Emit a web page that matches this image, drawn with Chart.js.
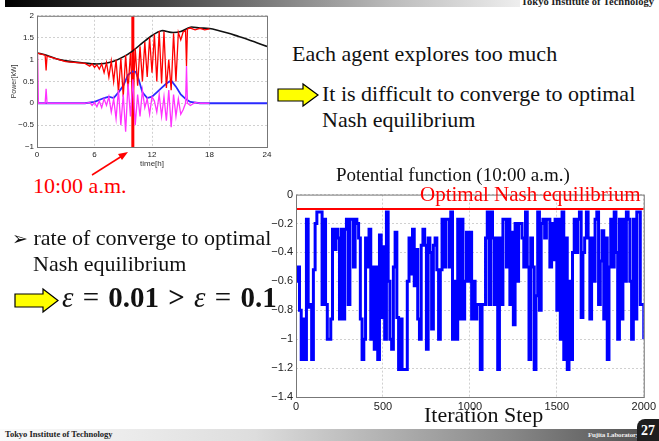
<!DOCTYPE html>
<html>
<head>
<meta charset="utf-8">
<script src="https://cdn.jsdelivr.net/npm/chart.js@4.4.1/dist/chart.umd.min.js"></script>
<style>
  body { margin: 0; width: 659px; height: 441px; overflow: hidden; background: #fff; position: relative; font-family: "Liberation Serif", "Times New Roman", serif; }
  .abs { position: absolute; white-space: nowrap; }
  .txt { font-size: 22px; color: #111; }
</style>
</head>
<body>
<!-- header / footer bars -->
<div class="abs" style="left:5px;top:0;width:515px;height:7px;background:linear-gradient(90deg,#000,#444 30%,#bbb 75%,#eee);"></div>
<div class="abs" style="left:521px;top:-4px;font-size:10.5px;font-weight:bold;color:#222;">Tokyo Institute of Technology</div>
<div class="abs" style="left:0;top:429px;width:637px;height:12px;background:linear-gradient(90deg,#fafafa,#ddd 40%,#888 80%,#555);"></div>
<div class="abs" style="left:5px;top:429px;font-size:8.5px;font-weight:bold;color:#222;">Tokyo Institute of Technology</div>
<div class="abs" style="left:588px;top:431px;font-size:7px;font-weight:bold;color:#eee;letter-spacing:-0.2px;">Fujita Laboratory</div>
<div class="abs" style="left:637px;top:419px;width:22px;height:22px;background:#1e1e1e;border-top-left-radius:8px;color:#fff;font-size:14px;font-weight:bold;text-align:center;line-height:24px;">27</div>

<!-- small power chart -->
<div class="abs" style="left:0;top:8px;width:275px;height:164px;"><canvas id="powerChart" width="275" height="164"></canvas></div>

<!-- main potential chart -->
<div class="abs" style="left:255px;top:185px;width:404px;height:242px;"><canvas id="potentialChart" width="404" height="242"></canvas></div>

<!-- texts -->
<div class="abs txt" style="left:292px;top:41px;">Each agent explores too much</div>
<div class="abs txt" style="left:322px;top:81px;line-height:26px;">It is difficult to converge to optimal<br>Nash equilibrium</div>
<div class="abs" style="left:33px;top:173px;font-size:22px;color:#f00;">10:00 a.m.</div>
<div class="abs" style="left:336px;top:164px;font-size:19px;color:#111;">Potential function (10:00 a.m.)</div>
<div class="abs" style="left:420px;top:182px;font-size:21px;color:#f00;">Optimal Nash equilibrium</div>
<div class="abs txt" style="left:12px;top:225px;line-height:26px;"><span style="font-family:'DejaVu Sans';font-size:19px;">&#10146;</span> rate of converge to optimal<br><span style="padding-left:21px;">Nash equilibrium</span></div>
<div class="abs" style="left:62px;top:281px;font-size:29px;color:#111;word-spacing:2px;"><i>&#949;</i> = <b>0.01</b> <b>&gt;</b> <i>&#949;</i> = <b>0.1</b></div>
<div class="abs" style="left:424px;top:402px;font-size:22px;color:#111;">Iteration Step</div>

<svg class="abs" style="left:0;top:0;" width="659" height="441">
  <polygon points="278,89 303,89 303,84 318,95 303,106 303,101 278,101" fill="#ffff00" stroke="#000" stroke-width="1.2"/>
  <polygon points="15,294 43,294 43,289 58,300.5 43,312 43,307 15,307" fill="#ffff00" stroke="#000" stroke-width="1.2"/>
  <line x1="92" y1="175" x2="122" y2="156" stroke="#f00" stroke-width="1.5"/>
  <polygon points="128,152 118,154 122,160" fill="#f00"/>
</svg>

<script>
// ---- potential function (10:00 a.m.), sampled every 10 iteration steps ----
const stepEvery = 10;
const potential = [
  -0.6, -0.5, -0.8, -1.14, -0.86, -1.14, -0.17, -0.78, -0.76, -1.14,
  -0.52, -0.2, -0.12, -0.12, -0.12, -0.76, -0.17, -0.76, -1.0, -1.0,
  -0.86, -0.24, -0.38, -0.24, -0.3, -0.86, -0.24, -0.86, -0.24, -0.17,
  -0.76, -0.17, -0.17, -0.5, -0.17, -0.2, -0.3, -0.86, -1.14, -1.0,
  -0.3, -0.5, -0.24, -1.0, -0.5, -1.07, -0.5, -1.14, -0.28, -0.85,
  -0.36, -1.0, -0.12, -0.6, -1.0, -1.07, -0.5, -0.26, -0.85, -1.21,
  -0.86, -1.21, -1.21, -1.21, -0.6, -0.3, -0.55, -0.24, -0.63, -0.38,
  -0.86, -1.0, -0.35, -0.24, -0.35, -1.07, -0.3, -0.4, -0.93, -0.35,
  -0.3, -0.52, -1.0, -0.52, -0.17, -0.5, -0.17, -0.17, -0.5, -0.12,
  -1.0, -0.6, -1.0, -0.17, -0.86, -0.17, -0.86, -0.6, -0.26, -0.6,
  -0.26, -0.86, -0.6, -0.86, -0.76, -0.76, -1.21, -0.76, -0.76, -0.3,
  -0.12, -0.76, -0.12, -0.3, -0.76, -0.3, -1.21, -0.3, -0.76, -0.17,
  -0.17, -0.5, -0.17, -0.76, -0.26, -0.9, -0.2, -0.6, -0.2, -0.2,
  -0.3, -0.5, -0.12, -0.5, -1.14, -0.3, -0.5, -1.21, -0.7, -0.12,
  -0.8, -0.2, -0.17, -0.3, -0.17, -0.17, -0.5, -0.2, -0.45, -0.17,
  -0.8, -0.17, -1.0, -0.12, -1.14, -0.3, -1.21, -0.6, -1.14, -0.4,
  -0.17, -0.4, -0.17, -0.12, -0.85, -0.4, -0.3, -0.12, -0.3, -0.86,
  -0.3, -0.6, -0.17, -0.12, -0.76, -0.46, -0.25, -0.86, -0.3, -1.14,
  -0.5, -0.17, -0.5, -0.12, -0.4, -1.0, -0.17, -0.86, -0.17, -0.6,
  -0.12, -0.17, -0.6, -1.0, -0.17, -0.86, -0.12, -0.12, -0.76, -0.76,
  -1.0
];
const optimalNash = -0.1;
const iterTicks = [0, 500, 1000, 1500, 2000];
const potTicks = [0, -0.2, -0.4, -0.6, -0.8, -1, -1.2, -1.4];

// ---- power profile over the day ----
const tBlack = [0,1,2,3,4,5,6,7,8,9,10,11,12,13,14,15,16,17,18,19,20,21,22,23,24];
const demand = [1.15,1.1,1.02,0.97,0.94,0.92,0.9,0.91,0.96,1.06,1.2,1.38,1.55,1.66,1.62,1.64,1.74,1.72,1.71,1.66,1.6,1.53,1.46,1.38,1.3];

const tSpike = [0,0.05,0.15,0.85,0.95,1.05,1.5,3,5,5.5,5.75,6,6.25,6.5,6.75,7,7.25,7.5,7.75,8,8.25,8.5,8.75,9,9.25,9.5,9.75,10,10.25,10.5,10.75,11,11.25,11.5,11.75,12,12.25,12.5,12.75,13,13.25,13.5,13.75,14,14.25,14.5,14.75,15,15.25,15.5,15.6,15.7,16,16.5,17,17.5,18];
const redPower = [0,1.15,1.14,1.1,0.75,1.08,1.05,0.95,0.91,0.85,0.9,0.82,0.88,0.78,0.9,0.7,0.93,0.6,0.97,0.5,1.0,0.25,1.03,0.15,1.1,0.3,1.15,0.0,1.25,0.4,1.3,0.5,1.4,0.6,1.5,0.7,1.58,0.5,1.65,0.45,1.64,0.35,1.0,0.3,1.6,0.5,1.62,1.45,1.63,1.66,0.85,1.7,1.72,1.68,1.71,1.68,1.7];
const magentaPower = [0,1.1,0,0,0.33,0,0,0,0,0.02,-0.05,0.02,-0.08,0.05,-0.1,0.1,-0.05,0.15,-0.2,0.1,-0.35,0.3,-0.5,0.2,-0.65,0.45,-0.3,0.55,-0.5,0.2,-0.3,0.3,-0.1,0.1,-0.25,0.15,0.05,-0.2,0.2,-0.3,0.15,-0.4,0.3,-0.55,0.2,-0.3,0.1,-0.25,-0.15,0.0,0.85,0.0,-0.05,0.02,0,0,0];

const tBlue = [0,5,6,7,7.5,8,8.5,9,9.5,10,10.3,10.6,11,11.5,12,12.5,13,13.5,14,14.5,15,15.5,16,17,18,24];
const bluePower = [0,0,0.03,0.12,0.15,0.12,0.25,0.4,0.65,0.73,0.72,0.55,0.25,0.12,0.15,0.25,0.35,0.45,0.52,0.38,0.2,0.1,0.03,0,0,0];

const markTime = 10;
const hourTicks = [0, 6, 12, 18, 24];

const xy = (xs, ys) => xs.map((x, i) => ({ x: x, y: ys[i] }));
const minus = v => String(+v.toFixed(1)).replace('-', '\u2212');

// box around the plot area, like matlab
const frame = {
  id: 'frame',
  afterDraw(chart) {
    const a = chart.chartArea, c = chart.ctx;
    c.save();
    c.strokeStyle = '#777';
    c.lineWidth = 1;
    c.strokeRect(a.left + 0.5, a.top + 0.5, a.right - a.left, a.bottom - a.top);
    c.restore();
  }
};

const gridOpts = { color: '#d0d0d0', drawTicks: false };
const borderOpts = { display: false, dash: [2, 2] };

// --- main chart ---
new Chart(document.getElementById('potentialChart'), {
  type: 'line',
  data: {
    datasets: [
      {
        data: xy(potential.map((_, i) => i * stepEvery), potential),
        borderColor: '#0000ff',
        borderWidth: 3,
        pointRadius: 0,
        stepped: true
      },
      {
        data: [{ x: 0, y: optimalNash }, { x: 2000, y: optimalNash }],
        borderColor: '#ff0000',
        borderWidth: 2,
        pointRadius: 0
      }
    ]
  },
  options: {
    responsive: false,
    animation: false,
    layout: { padding: { left: 0, right: 12, top: 8, bottom: 0 } },
    plugins: { legend: { display: false }, tooltip: { enabled: false } },
    scales: {
      x: {
        type: 'linear', min: 0, max: 2000,
        afterBuildTicks: s => { s.ticks = iterTicks.map(v => ({ value: v })); },
        afterFit: s => { s.height = 30; },
        grid: gridOpts, border: borderOpts,
        ticks: { color: '#222', font: { family: 'Liberation Sans', size: 11 }, padding: 3, maxRotation: 0, callback: v => String(v) }
      },
      y: {
        min: -1.4, max: 0,
        afterBuildTicks: s => { s.ticks = potTicks.map(v => ({ value: v })); },
        afterFit: s => { s.width = 41; },
        grid: gridOpts, border: borderOpts,
        ticks: { color: '#222', font: { family: 'Liberation Sans', size: 11 }, padding: 3, callback: minus }
      }
    }
  },
  plugins: [frame]
});

// --- small power chart ---
new Chart(document.getElementById('powerChart'), {
  type: 'line',
  data: {
    datasets: [
      { data: xy(tSpike, magentaPower), borderColor: '#ff33ff', borderWidth: 1.3, pointRadius: 0 },
      { data: xy(tSpike, redPower), borderColor: '#ff0000', borderWidth: 1.3, pointRadius: 0 },
      { data: xy(tBlue, bluePower), borderColor: '#2a2aff', borderWidth: 1.8, pointRadius: 0 },
      { data: xy(tBlack, demand), borderColor: '#111', borderWidth: 1.6, pointRadius: 0, tension: 0.3 },
      { data: [{ x: markTime, y: -1 }, { x: markTime, y: 2 }], borderColor: '#ff0000', borderWidth: 3, pointRadius: 0 }
    ]
  },
  options: {
    responsive: false,
    animation: false,
    layout: { padding: { left: 0, right: 8, top: 6, bottom: 0 } },
    plugins: { legend: { display: false }, tooltip: { enabled: false } },
    scales: {
      x: {
        type: 'linear', min: 0, max: 24,
        afterBuildTicks: s => { s.ticks = hourTicks.map(v => ({ value: v })); },
        afterFit: s => { s.height = 25; },
        grid: gridOpts, border: borderOpts,
        title: { display: true, text: 'time[h]', color: '#333', font: { family: 'Liberation Sans', size: 8 }, padding: { top: 0, bottom: 3 } },
        ticks: { color: '#222', font: { family: 'Liberation Sans', size: 8 }, padding: 3, maxRotation: 0 }
      },
      y: {
        min: -1, max: 2,
        ticks: { stepSize: 0.5, color: '#222', font: { family: 'Liberation Sans', size: 8 }, padding: 3, callback: minus },
        afterFit: s => { s.width = 37; },
        grid: gridOpts, border: borderOpts,
        title: { display: true, text: 'Power[kW]', color: '#333', font: { family: 'Liberation Sans', size: 7 }, padding: { top: 10, bottom: 0 } }
      }
    }
  },
  plugins: [frame]
});
</script>
</body>
</html>
